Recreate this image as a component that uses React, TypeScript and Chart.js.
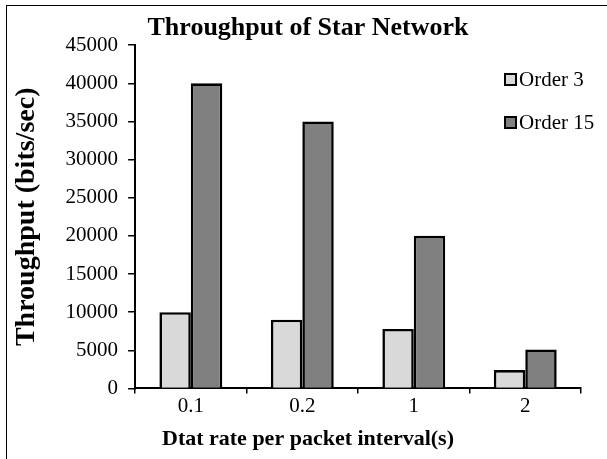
import React, { useEffect, useRef } from 'react';
import { Chart, registerables } from 'chart.js';

Chart.register(...registerables);

const categories = ['0.1', '0.2', '1', '2'];
const order3 = [10000, 9000, 7800, 2400];
const order15 = [40000, 35000, 20000, 5100];
const seriesNames = ['Order 3', 'Order 15'];
const seriesColors = ['#d9d9d9', '#808080'];
const yMin = 0;
const yMax = 45000;
const yStep = 5000;
const chartTitle = 'Throughput of Star Network';
const xTitle = 'Dtat rate per packet interval(s)';
const yTitle = 'Throughput (bits/sec)';

const FONT = '"Liberation Serif", "Times New Roman", serif';

export default function App() {
  const ref = useRef<HTMLCanvasElement>(null);

  useEffect(() => {
    if (!ref.current) return;
    const seriesData = [order3, order15];
    const chart = new Chart(ref.current, {
      type: 'bar',
      data: {
        labels: categories,
        datasets: seriesNames.map((name, i) => ({
          label: name,
          data: seriesData[i],
          backgroundColor: seriesColors[i],
          borderColor: '#000',
          borderWidth: 2.6,
          categoryPercentage: 0.564,
          barPercentage: 1,
        })),
      },
      options: {
        responsive: false,
        animation: false,
        layout: { padding: { left: 35, right: 26, top: 0, bottom: 0 } },
        plugins: {
          legend: { display: false },
          tooltip: { enabled: false },
          title: {
            display: true,
            text: chartTitle,
            color: '#000',
            font: { family: FONT, size: 26, weight: 'bold' },
            padding: { top: 13, bottom: 1 },
          },
          subtitle: {
            display: true,
            position: 'bottom',
            text: xTitle,
            color: '#000',
            font: { family: FONT, size: 22, weight: 'bold' },
            padding: { top: 8, bottom: 6 },
          },
        },
        scales: {
          x: {
            grid: {
              display: true,
              drawOnChartArea: false,
              drawTicks: true,
              tickLength: 5,
              color: '#000',
              lineWidth: 1.5,
              offset: true,
            },
            border: { color: '#000', width: 2 },
            ticks: {
              color: '#000',
              font: { family: FONT, size: 21 },
              padding: 0,
            },
          },
          y: {
            min: yMin,
            max: yMax,
            ticks: {
              stepSize: yStep,
              callback: (v: any) => String(v),
              color: '#000',
              font: { family: FONT, size: 21 },
              padding: 10,
            },
            grid: {
              drawOnChartArea: false,
              drawTicks: true,
              tickLength: 7,
              color: '#000',
              lineWidth: 1.5,
            },
            border: { color: '#000', width: 2 },
            title: {
              display: true,
              text: yTitle,
              color: '#000',
              font: { family: FONT, size: 28, weight: 'bold' },
              padding: { top: -25, bottom: 12 },
            },
          },
        },
      },
    });
    return () => chart.destroy();
  }, []);

  const legendTops = [67, 110];

  return (
    <div style={{ position: 'absolute', left: 0, top: 0, width: 607, height: 459, background: '#fff', overflow: 'hidden' }}>
      <canvas ref={ref} width={607} height={459} style={{ position: 'absolute', left: 0, top: 0, display: 'block' }} />
      <div
        style={{
          position: 'absolute',
          left: 6,
          top: 5,
          width: 601,
          height: 454,
          boxSizing: 'border-box',
          borderLeft: '1px solid #000',
          borderTop: '1px solid #000',
          pointerEvents: 'none',
        }}
      />
      {seriesNames.map((name, i) => (
        <div
          key={name}
          style={{
            position: 'absolute',
            left: 504,
            top: legendTops[i],
            height: 24,
            display: 'flex',
            alignItems: 'center',
            fontFamily: FONT,
            fontSize: 21,
            color: '#000',
            whiteSpace: 'nowrap',
          }}
        >
          <span
            style={{
              display: 'inline-block',
              width: 13,
              height: 13,
              boxSizing: 'border-box',
              border: '2px solid #000',
              background: seriesColors[i],
              marginRight: 2,
            }}
          />
          <span>{name}</span>
        </div>
      ))}
    </div>
  );
}
